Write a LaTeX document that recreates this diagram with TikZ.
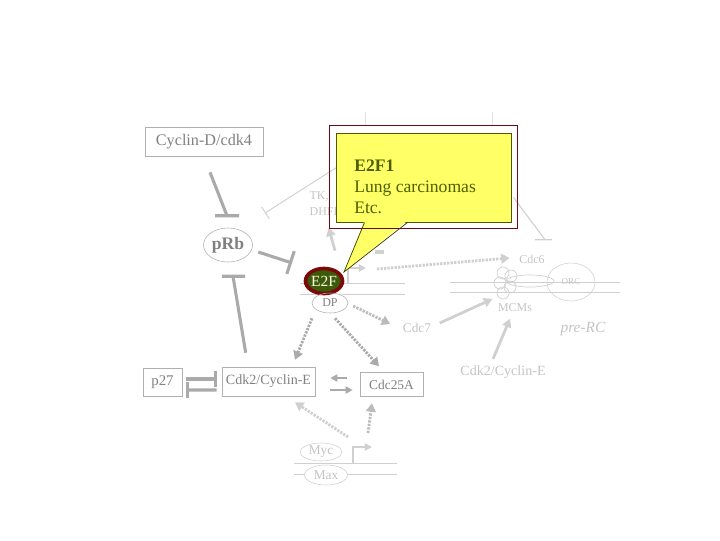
\documentclass[tikz,border=0pt]{standalone}
\usepackage{fontspec}
\setmainfont{Liberation Serif}
\usetikzlibrary{arrows.meta,positioning,shapes.geometric}

\definecolor{txtgray}{HTML}{808080}
\definecolor{boxgray}{HTML}{B0B0B0}
\definecolor{linegray}{HTML}{AAAAAA}
\definecolor{ghost}{HTML}{D0D0D0}
\definecolor{ghosttxt}{HTML}{C4C4C4}
\definecolor{noteframe}{HTML}{6E0A18}
\definecolor{notefill}{HTML}{FFFF66}
\definecolor{noteedge}{HTML}{4F5500}
\definecolor{notetxt}{HTML}{4D5F00}
\definecolor{eftwo}{HTML}{3C5A0A}
\definecolor{eftwoedge}{HTML}{7A0A0A}

\tikzset{
  genebox/.style={draw=boxgray, text=txtgray, inner sep=0pt},
  blob/.style={ellipse, draw=boxgray, fill=white, text=txtgray, inner sep=0pt},
  ghostlabel/.style={text=ghosttxt, inner sep=1pt},
  dna/.style={draw=ghost, line width=0.6pt},
  inhib/.style={draw=linegray, line width=2.2pt},
  inhibtip/.style={inhib, -{Bar[width=17pt,line width=2.2pt]}},
  act/.style={draw=linegray, line width=1.5pt, -{Triangle[length=5pt,width=5pt]}},
  ghostact/.style={draw=ghost, line width=2pt, -{Triangle[length=6pt,width=6.5pt]}},
  dotact/.style={draw=linegray, line width=2pt, dash pattern=on 1.6pt off 0.9pt,
    -{Triangle[length=6pt,width=7pt]}},
  ghostdot/.style={dotact, draw=ghost}
}

\begin{document}
\begin{tikzpicture}[x=0.025cm, y=-0.025cm]
\useasboundingbox (0,0) rectangle (720,540);

% DNA strands
\foreach \y in {283,294} \draw[dna] (300,\y) -- (405,\y);
\foreach \y in {282,292} \draw[dna] (450,\y) -- (620,\y);
\foreach \y in {463,474} \draw[dna] (294,\y) -- (397,\y);

% proteins and genes
\node[genebox, minimum width=2.95cm, minimum height=0.725cm, font=\fontsize{11.5}{13}\selectfont]
  (cycD) at (204,141.5) {Cyclin-D/cdk4};
\node[blob, minimum width=1.225cm, minimum height=0.85cm, font=\bfseries\fontsize{12.5}{15}\selectfont]
  (pRb) at (228,245) {pRb};
\node[blob, draw=none, minimum width=0.9cm, minimum height=0.5cm] (DPback) at (330,302) {};
\node[ellipse, fill=eftwo, draw=eftwoedge, line width=2.6pt, inner sep=0pt,
  minimum width=0.925cm, minimum height=0.625cm, text=white!90!yellow,
  font=\fontsize{11}{13}\selectfont] (E2F) at (324,281) {E2F};
\node[blob, fill=none, minimum width=0.9cm, minimum height=0.5cm,
  font=\fontsize{8.5}{10}\selectfont] (DP) at (330,303) {\raisebox{-2pt}{DP}};
\node[genebox, minimum width=0.975cm, minimum height=0.7cm, font=\fontsize{10.5}{12}\selectfont]
  (p27) at (162.5,382) {p27};
\node[genebox, minimum width=2.325cm, minimum height=0.725cm, font=\fontsize{10}{12}\selectfont]
  (cdk2) at (268.5,381.5) {Cdk2/Cyclin-E};
\node[genebox, minimum width=1.575cm, minimum height=0.6cm, font=\fontsize{9.5}{11}\selectfont]
  (cdc25A) at (391.5,384.5) {Cdc25A};
\node[blob, draw=ghost, text=ghosttxt, minimum width=1.05cm, minimum height=0.45cm,
  font=\fontsize{9.5}{11}\selectfont] (myc) at (321,452) {Myc};
\node[blob, draw=ghost, text=ghosttxt, minimum width=1.075cm, minimum height=0.5cm,
  font=\fontsize{9.5}{11}\selectfont] (max) at (326,475) {Max};

% replication origin
\node[ellipse, draw=ghost, inner sep=0pt, minimum width=1.2cm, minimum height=0.95cm,
  text=ghosttxt, font=\fontsize{6.5}{8}\selectfont] (orc) at (571,282) {ORC};
\foreach \cx/\cy in {503/273, 511/276, 500/283, 510/287, 503/293}
  \draw[ghost, line width=0.5pt] (\cx,\cy) circle[radius=6];
\draw[ghost, line width=0.5pt] (530,281) ellipse[x radius=24, y radius=6];

% faint labels
\node[ghostlabel, anchor=west, font=\fontsize{8.5}{10}\selectfont] (tk) at (308,196) {TK,};
\node[ghostlabel, anchor=west, font=\fontsize{8.5}{10}\selectfont] (dhfr) at (308,212) {DHFR};
\node[ghostlabel, font=\fontsize{8.5}{10}\selectfont] (cdc6) at (532,259) {Cdc6};
\node[ghostlabel, font=\fontsize{8.5}{10}\selectfont] (mcms) at (515,308) {MCMs};
\node[ghostlabel, font=\itshape\fontsize{11}{13}\selectfont] (preRC) at (583,329) {pre-RC};
\node[ghostlabel, font=\fontsize{9.5}{11}\selectfont] (cdc7) at (417,328) {Cdc7};
\node[ghostlabel, font=\fontsize{10}{12}\selectfont] (cdk2r) at (503,372) {Cdk2/Cyclin-E};

% callout box (drawn early so the faint lines run behind it)
\node[rectangle, fill=notefill, draw=noteedge, line width=0.7pt, inner sep=0pt,
  minimum width=4.35cm, minimum height=2.225cm] (note) at (424,177.5) {};

% inhibitions
\draw[inhib] ([shift={(6,16)}]cycD.south) -- ([shift={(-1,-12)}]pRb.north)
  ++(-12,0) -- ++(24,0);
\draw[inhibtip] ([shift={(5.5,7)}]pRb.east) -- ([shift={(-32,-18)}]E2F.center);
\draw[inhib] ([shift={(24,-14)}]cdk2.north west) -- ([shift={(5,14)}]pRb.south)
  ++(-11,0) -- ++(23,0);
\draw[ghost, line width=0.7pt, -{Bar[width=10pt,line width=0.7pt]}]
  ([shift={(0,-10)}]note.west) -- ([shift={(37,-32)}]pRb.center);
\draw[ghost, line width=2.2pt] ([shift={(51,-29)}]E2F.center) -- ++(9,0);
\draw[inhibtip, -{Bar[width=11pt,line width=2.2pt]}]
  ([shift={(4,-3)}]p27.east) -- ([shift={(-5,-2.5)}]cdk2.west);
\draw[inhibtip, -{Bar[width=11pt,line width=2.2pt]}]
  ([shift={(-5,8.5)}]cdk2.west) -- ([shift={(4,8)}]p27.east);

% activations
\draw[ghostact] ([shift={(11,-16)}]E2F.north) -- ([shift={(3,10)}]dhfr.south);
\draw[ghost, line width=1.6pt, -{Triangle[length=5pt,width=5pt]}]
  ([shift={(24,2)}]E2F.center) -- ++(0,-15) -- ++(18,0);
\draw[ghostdot] ([shift={(53,-12)}]E2F.center) -- ([shift={(-8,-1)}]cdc6.west);
\draw[ghostdot, draw=ghost!90!black] ([shift={(5,3)}]DP.east) -- ([shift={(-11,-4)}]cdc7.west);
\draw[dotact] ([shift={(-18,5)}]DP.south) -- ([shift={(26.5,-7)}]cdk2.north);
\draw[dotact] ([shift={(5,5)}]DP.south) -- ([shift={(-12.5,-6)}]cdc25A.north);
\draw[ghostact] ([shift={(7,-5)}]cdc7.east) -- ([shift={(-4,-9)}]mcms.west);
\draw[ghostact] ([shift={(-10,-5)}]cdk2r.north) -- ([shift={(-5,5)}]mcms.south);
\draw[act] ([shift={(-13,-6.5)}]cdc25A.west) -- ([shift={(15,-3.5)}]cdk2.east);
\draw[act] ([shift={(15,8.5)}]cdk2.east) -- ([shift={(-7,5.5)}]cdc25A.west);
\draw[ghostdot] ([shift={(27,-15)}]myc.center) -- ([shift={(26.5,6)}]cdk2.south);
\draw[ghost, line width=1.6pt, -{Triangle[length=5pt,width=5pt]}]
  ([shift={(27,-12)}]max.center) -- ++(0,-16) -- ++(19,0);
\draw[ghostdot, draw=ghost!90!black] ([shift={(47,-19)}]myc.center) -- ([shift={(-19.5,6.5)}]cdc25A.south);
\draw[ghost, line width=0.8pt] ([shift={(2,20)}]note.east) -- ([shift={(-26,-23)}]orc.north)
  ++(-10,0) -- ++(17,0);

% callout frame and pointer
\draw[ghost!60, line width=0.5pt] ([shift={(29,-7)}]note.north west) -- ++(0,-14);
\draw[ghost!60, line width=0.5pt] ([shift={(156,-7)}]note.north west) -- ++(0,-14);
\node[rectangle, fill=notefill, draw=noteedge, line width=0.7pt, inner sep=0pt,
  minimum width=4.35cm, minimum height=2.225cm] at (note.center) {};
\fill[notefill] ([shift={(28,-2)}]note.south west) -- ([shift={(20,-9)}]E2F.center)
  -- ([shift={(71,-2)}]note.south west) -- cycle;
\draw[noteframe, line width=0.8pt] ([shift={(-7,-7)}]note.north west)
  rectangle ([shift={(6,6)}]note.south east);
\draw[noteedge!70!black, line width=0.5pt] ([shift={(28,0)}]note.south west)
  -- ([shift={(20,-9)}]E2F.center) -- ([shift={(71,0)}]note.south west);
\node[anchor=west, align=left, text=notetxt, inner sep=0pt,
  font=\fontsize{12.5}{15}\selectfont] (noteText) at (354,187)
  {\textbf{E2F1}\\Lung carcinomas\\Etc.};

\end{tikzpicture}
\end{document}
